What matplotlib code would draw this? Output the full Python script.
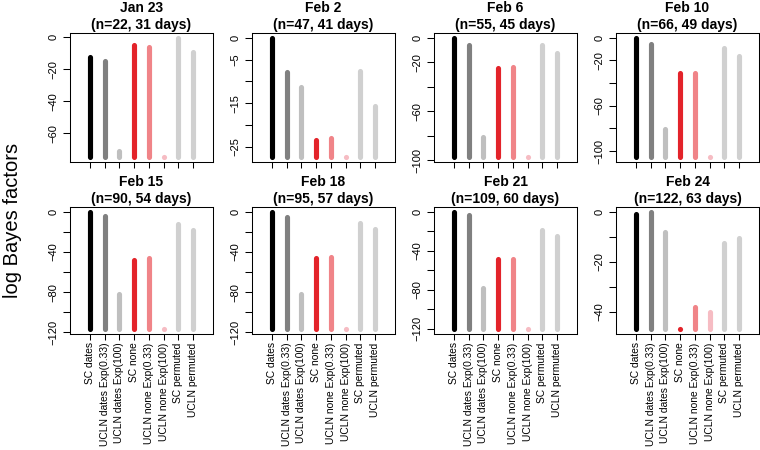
import matplotlib
matplotlib.use('Agg')
import matplotlib.pyplot as plt

plt.rcParams['font.family'] = ['Liberation Sans', 'DejaVu Sans']

# panel data
dates = ['Jan 23', 'Feb 2', 'Feb 6', 'Feb 10', 'Feb 15', 'Feb 18', 'Feb 21', 'Feb 24']
n_seqs = [22, 47, 55, 66, 90, 95, 109, 122]
n_days = [31, 41, 45, 49, 54, 57, 60, 63]

models = ['SC dates', 'UCLN dates Exp(0.33)', 'UCLN dates Exp(100)', 'SC none',
          'UCLN none Exp(0.33)', 'UCLN none Exp(100)', 'SC permuted', 'UCLN permuted']

jan23 = [-12.3, -14.8, -71.0, -4.9, -6.0, -74.8, -0.5, -9.1]
feb2 = [0.0, -7.8, -11.4, -23.5, -22.9, -27.4, -7.6, -15.6]
feb6 = [0.0, -6.1, -80.6, -25.0, -23.5, -97.5, -5.7, -12.6]
feb10 = [0.0, -5.2, -80.7, -31.3, -31.0, -105.4, -9.1, -15.7]
feb15 = [0.0, -4.1, -81.8, -48.5, -45.8, -117.0, -11.8, -18.5]
feb18 = [0.0, -5.1, -81.8, -46.1, -45.1, -117.0, -10.8, -17.5]
feb21 = [0.0, -3.6, -78.5, -49.0, -48.2, -120.6, -19.0, -24.8]
feb24 = [-1.1, 0.0, -8.0, -47.1, -38.0, -40.0, -12.7, -10.7]
panels = [jan23, feb2, feb6, feb10, feb15, feb18, feb21, feb24]

# y ticks (all ticks, and the ones R actually labelled)
yticks = [[0, -20, -40, -60],
          [0, -5, -10, -15, -20, -25],
          [0, -20, -40, -60, -80, -100],
          [0, -20, -40, -60, -80, -100],
          [0, -20, -40, -60, -80, -100, -120],
          [0, -20, -40, -60, -80, -100, -120],
          [0, -20, -40, -60, -80, -100, -120],
          [0, -10, -20, -30, -40]]
ylabeled = [[0, -20, -40, -60],
            [0, -5, -15, -25],
            [0, -20, -60, -100],
            [0, -20, -60, -100],
            [0, -40, -80, -120],
            [0, -40, -80, -120],
            [0, -40, -80, -120],
            [0, -20, -40]]

colors = ['#000000', '#808080', '#bfbfbf', '#e3232a',
          '#f08488', '#f6bcc3', '#d0d0d0', '#d0d0d0']

W, H = 760, 450
fig = plt.figure(figsize=(W / 100, H / 100), dpi=100)

col_left = [70, 252, 434, 616]
row_box = [(33, 162), (207, 334)]
box_w = 143

x = list(range(1, len(models) + 1))


def fmt(t):
    return str(t).replace('-', '\u2212')


for i, vals in enumerate(panels):
    r, c = divmod(i, 4)
    top, bot = row_box[r]
    ax = fig.add_axes([col_left[c] / W, 1 - bot / H, box_w / W, (bot - top) / H])

    lo = min(vals)
    hi = max(vals)
    rng = hi - lo
    lc = ax.vlines(x, lo, vals, colors=colors, linewidth=3.7)
    lc.set_capstyle('round')
    # the minimum is a zero-length segment -> draw as dot
    imin = vals.index(lo)
    ax.plot(x[imin], lo, 'o', color=colors[imin], markersize=3.7, markeredgewidth=0)

    ax.set_xlim(-0.36, 9.36)
    ax.set_ylim(lo - 0.04 * rng, hi + 0.04 * rng)

    ax.set_yticks(yticks[i])
    ax.set_yticklabels([fmt(t) if t in ylabeled[i] else '' for t in yticks[i]],
                       rotation=90, va='center', fontsize=8)
    ax.set_xticks(x)
    if r == 1:
        ax.set_xticklabels(models, rotation=90, fontsize=7.4)
    else:
        ax.set_xticklabels([])
    ax.tick_params(axis='y', length=5, width=0.75, pad=3)
    ax.tick_params(axis='x', length=4.5, width=0.75, pad=1.5)
    for s in ax.spines.values():
        s.set_linewidth(0.75)

    ax.set_title('%s\n(n=%d, %d days)' % (dates[i], n_seqs[i], n_days[i]),
                 fontsize=10, fontweight='bold', pad=3, linespacing=1.25)

fig.text(13 / W, 1 - 220 / H, 'log Bayes factors', rotation=90,
         ha='center', va='center', fontsize=14.5)

fig.savefig('out.png', dpi=100)
